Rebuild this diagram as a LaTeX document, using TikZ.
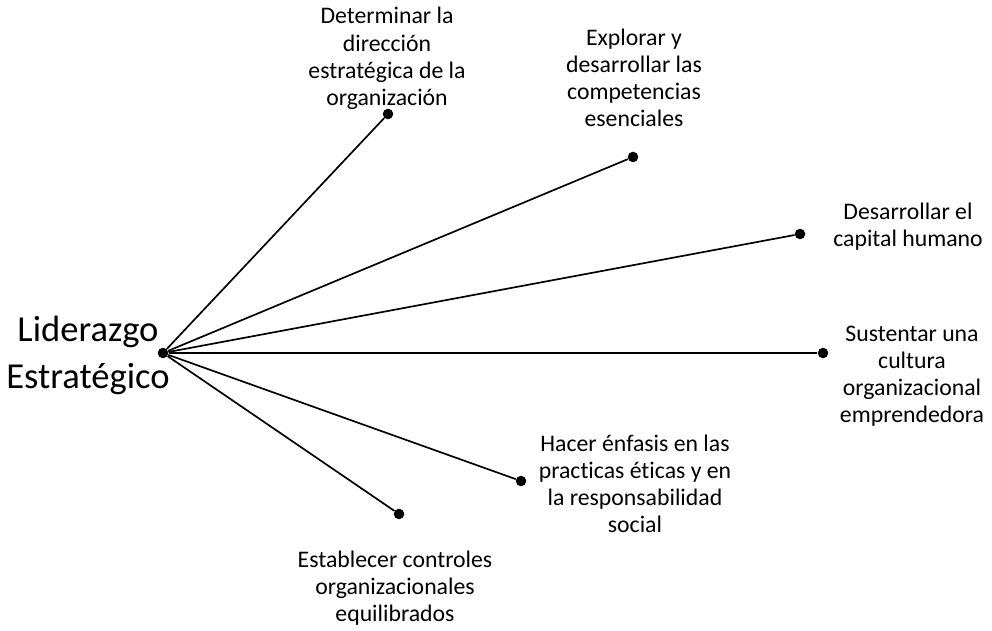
\documentclass[tikz,border=0pt]{standalone}
\usepackage{fontspec}
\setmainfont{Carlito}[Ligatures=NoCommon]
\tikzstyle{spoke}=[line width=1.2pt,black]
\tikzstyle{dot}=[circle,fill=black,inner sep=0pt,minimum size=7.5pt]
\tikzstyle{goal}=[align=center,inner sep=0pt,font=\fontsize{16.9}{19.3}\selectfont]
\begin{document}
\begin{tikzpicture}
            \useasboundingbox (0,0) rectangle (24.8,15.75);
            \node[dot] (C) at (4.075,6.925) {};
            \node[dot] (d1) at (9.7,12.9) {};
            \node[dot] (d2) at (15.825,11.825) {};
            \node[dot] (d3) at (20.0,9.9) {};
            \node[dot] (d4) at (20.575,6.925) {};
            \node[dot] (d5) at (13.025,3.725) {};
            \node[dot] (d6) at (9.975,2.9) {};
            \node[align=center,inner sep=0pt,font=\fontsize{26}{33.4}\selectfont] (lid) at (2.2,6.875) {Liderazgo\\Estratégico};
            \node[goal] (t1) at (9.675,14.29) {Determinar la\\dirección\\estratégica de la\\organización};
            \node[goal] (t2) at (15.85,13.81) {Explorar y\\desarrollar las\\competencias\\esenciales};
            \node[goal] (t3) at (22.7,10.09) {Desarrollar el\\capital humano};
            \node[goal] (t4) at (22.8,6.35) {Sustentar una\\cultura\\organizacional\\emprendedora};
            \node[goal] (t5) at (15.875,3.66) {Hacer énfasis en las\\practicas éticas y en\\la responsabilidad\\social};
            \node[goal] (t6) at (9.875,1.05) {Establecer controles\\organizacionales\\equilibrados};
            \draw[spoke] (C)--(d1);
            \draw[spoke] (C)--(d2);
            \draw[spoke] (C)--(d3);
            \draw[spoke] (C)--(d4);
            \draw[spoke] (C)--(d5);
            \draw[spoke] (C)--(d6);
        \end{tikzpicture}
\end{document}
